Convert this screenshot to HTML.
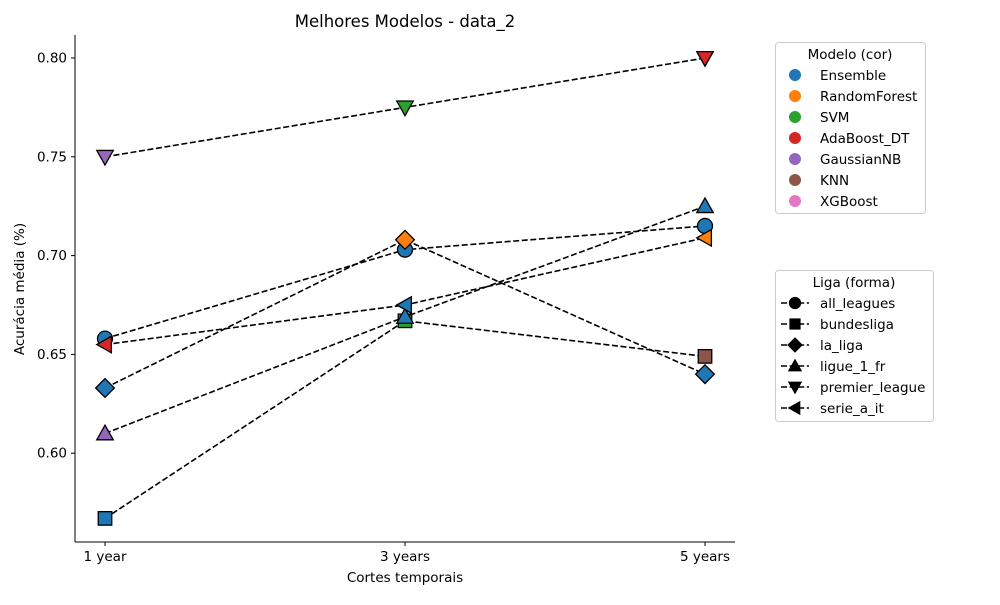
<!DOCTYPE html>
<html><head><meta charset="utf-8"><style>
body{margin:0;background:#fff;font-family:"Liberation Sans","DejaVu Sans",sans-serif}
svg text{font-family:"DejaVu Sans","Liberation Sans",sans-serif}
</style></head><body>
<svg id="c" width="1000" height="600" xmlns="http://www.w3.org/2000/svg"></svg>
<script>
const categories=["1 year","3 years","5 years"];
const leagues=["all_leagues","bundesliga","la_liga","ligue_1_fr","premier_league","serie_a_it"];
const shapes=["o","s","D","^","v","<"];
const valsAll=[0.658,0.703,0.715];
const valsBund=[0.567,0.667,0.649];
const valsLiga=[0.633,0.708,0.640];
const valsLigue=[0.610,0.669,0.725];
const valsPrem=[0.750,0.775,0.800];
const valsSerie=[0.655,0.675,0.709];
const modelsAll=["Ensemble","Ensemble","Ensemble"];
const modelsBund=["Ensemble","SVM","KNN"];
const modelsLiga=["Ensemble","RandomForest","Ensemble"];
const modelsLigue=["GaussianNB","Ensemble","Ensemble"];
const modelsPrem=["GaussianNB","SVM","AdaBoost_DT"];
const modelsSerie=["AdaBoost_DT","Ensemble","RandomForest"];
const modelNames=["Ensemble","RandomForest","SVM","AdaBoost_DT","GaussianNB","KNN","XGBoost"];
const modelColors=["#1f77b4","#ff7f0e","#2ca02c","#d62728","#9467bd","#8c564b","#e377c2"];
const yTicks=[0.60,0.65,0.70,0.75,0.80];
const series=[valsAll,valsBund,valsLiga,valsLigue,valsPrem,valsSerie];
const seriesModels=[modelsAll,modelsBund,modelsLiga,modelsLigue,modelsPrem,modelsSerie];

const NS="http://www.w3.org/2000/svg";
const svg=document.getElementById('c');
function el(t,a,p){const e=document.createElementNS(NS,t);for(const k in a)e.setAttribute(k,a[k]);(p||svg).appendChild(e);return e;}
const L=75,R=735,T=35,B=542;
const xs=i=>105+i*300;
const ys=v=>58+(0.80-v)/0.05*98.8;
function marker(m,x,y,r,fill,g){
  let e;
  if(m==="o")e=el('circle',{cx:x,cy:y,r:r},g);
  else if(m==="s")e=el('rect',{x:x-r*0.9,y:y-r*0.9,width:r*1.8,height:r*1.8},g);
  else{let p;
    if(m==="D")p=[[x,y-r*1.25],[x+r*1.25,y],[x,y+r*1.25],[x-r*1.25,y]];
    else if(m==="^")p=[[x,y-r*1.1],[x+r*1.1,y+r*0.85],[x-r*1.1,y+r*0.85]];
    else if(m==="v")p=[[x,y+r*1.1],[x+r*1.1,y-r*0.85],[x-r*1.1,y-r*0.85]];
    else p=[[x-r*1.1,y],[x+r*0.85,y-r*1.1],[x+r*0.85,y+r*1.1]];
    e=el('polygon',{points:p.map(q=>q.join(',')).join(' ')},g);}
  e.setAttribute('fill',fill);e.setAttribute('stroke','#000');e.setAttribute('stroke-width',1.3);
  return e;
}
const ax=el('g',{});


el('line',{x1:L,y1:T,x2:L,y2:B,stroke:'#000','stroke-width':1},ax);
el('line',{x1:L,y1:B,x2:R,y2:B,stroke:'#000','stroke-width':1},ax);
yTicks.forEach(v=>{const y=ys(v);
  el('line',{x1:L-4,y1:y,x2:L,y2:y,stroke:'#000'},ax);
  const t=el('text',{x:L-8,y:y+4.5,'text-anchor':'end','font-size':13.5},ax);t.textContent=v.toFixed(2);
  
  });
categories.forEach((c,i)=>{const x=xs(i);
  el('line',{x1:x,y1:B,x2:x,y2:B+4,stroke:'#000'},ax);
  const t=el('text',{x:x,y:B+19,'text-anchor':'middle','font-size':13.5},ax);t.textContent=c;
  
  });
let t=el('text',{x:405,y:27,'text-anchor':'middle','font-size':16.5});t.textContent="Melhores Modelos - data_2";


t=el('text',{x:405,y:582,'text-anchor':'middle','font-size':13.5});t.textContent="Cortes temporais";


t=el('text',{x:24,y:289,'text-anchor':'middle','font-size':13.5,transform:'rotate(-90 24 289)'});t.textContent="Acurácia média (%)";


series.forEach((vals,si)=>{
  const g=el('g',{});
  
  
  el('polyline',{points:vals.map((v,i)=>xs(i)+','+ys(v)).join(' '),fill:'none',stroke:'#000','stroke-width':1.6,'stroke-dasharray':'6,2.6'},g);
  vals.forEach((v,i)=>{const m=marker(shapes[si],xs(i),ys(v),7.5,modelColors[modelNames.indexOf(seriesModels[si][i])],g);
    
    });
});
const lg1=el('g',{});


el('rect',{x:775.5,y:42.5,width:150,height:171,rx:3,fill:'#fff',stroke:'#ccc'},lg1);
t=el('text',{x:850,y:59,'text-anchor':'middle','font-size':13.5},lg1);t.textContent="Modelo (cor)";
modelNames.forEach((n,i)=>{const y=75+i*21;
  const g=el('g',{},lg1);
  
  
  el('circle',{cx:795,cy:y,r:6,fill:modelColors[i]},g);
  const tt=el('text',{x:820,y:y+5,'font-size':13.5},g);tt.textContent=n;});
const lg2=el('g',{});


el('rect',{x:775.5,y:270.5,width:158,height:151,rx:3,fill:'#fff',stroke:'#ccc'},lg2);
t=el('text',{x:854,y:287,'text-anchor':'middle','font-size':13.5},lg2);t.textContent="Liga (forma)";
leagues.forEach((n,i)=>{const y=303+i*21;
  const g=el('g',{},lg2);
  
  
  el('line',{x1:781,y1:y,x2:809,y2:y,stroke:'#000','stroke-width':1.6,'stroke-dasharray':'6,2.6'},g);
  marker(shapes[i],795,y,5.5,'#000',g);
  const tt=el('text',{x:820,y:y+5,'font-size':13.5},g);tt.textContent=n;});
</script>
</body></html>
